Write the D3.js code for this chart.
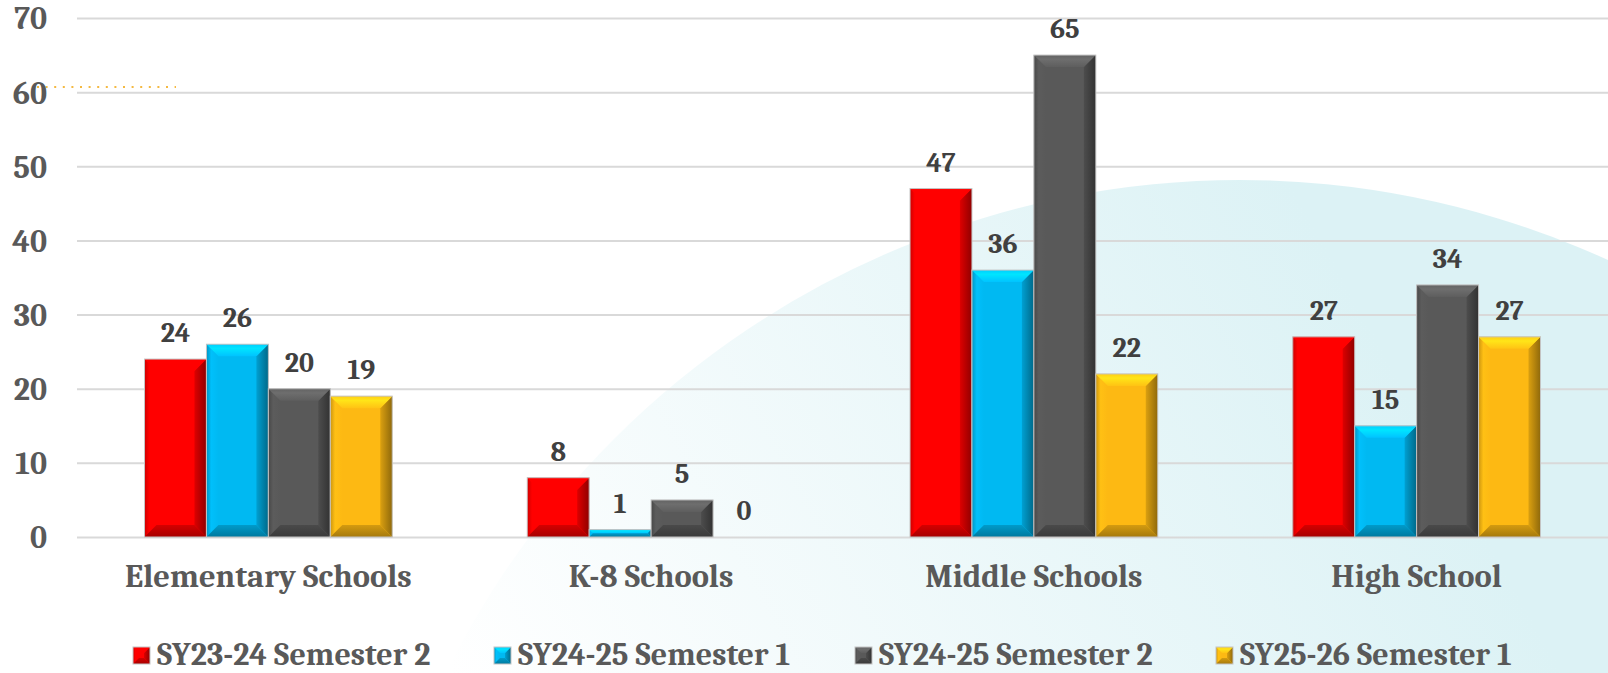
<!DOCTYPE html>
<html>
<head>
<meta charset="utf-8">
<script src="https://cdn.jsdelivr.net/npm/d3@7"></script>
<style>
  body { margin: 0; background: #fff; }
  text { font-family: Cambria, "Liberation Serif", serif; font-weight: bold; }
</style>
</head>
<body>
<div id="chart"></div>
<script>
var categories = ['Elementary Schools', 'K-8 Schools', 'Middle Schools', 'High School'];
var seriesNames = ['SY23-24 Semester 2', 'SY24-25 Semester 1', 'SY24-25 Semester 2', 'SY25-26 Semester 1'];
var sy2324s2 = [24, 8, 47, 27];
var sy2425s1 = [26, 1, 36, 15];
var sy2425s2 = [20, 5, 65, 34];
var sy2526s1 = [19, 0, 22, 27];
var yTicks = [0, 10, 20, 30, 40, 50, 60, 70];
var colors = ['#ff0000', '#00b9f2', '#595959', '#fdb913'];

var seriesValues = [sy2324s2, sy2425s1, sy2425s2, sy2526s1];

// Dimensions
var width = 1608,
    height = 673,
    plotLeft = 77,
    plotTop = 18,
    plotBottom = 537;

var svg = d3.select('#chart')
  .append('svg')
    .attr('width', width)
    .attr('height', height);

var defs = svg.append('defs');

// background blob
var bg = defs.append('linearGradient')
    .attr('id', 'bgGrad')
    .attr('gradientUnits', 'userSpaceOnUse')
    .attr('x1', 450).attr('y1', 673)
    .attr('x2', 1300).attr('y2', 200);
bg.append('stop').attr('offset', 0).attr('stop-color', '#ffffff');
bg.append('stop').attr('offset', 1).attr('stop-color', '#dcf2f5');

svg.append('circle')
    .attr('cx', 1240)
    .attr('cy', 1066)
    .attr('r', 886)
    .attr('fill', 'url(#bgGrad)');

// stray dotted line near the 60 label
svg.append('line')
    .attr('x1', 37).attr('x2', 176)
    .attr('y1', 87).attr('y2', 87)
    .attr('stroke', '#f4b942')
    .attr('stroke-width', 2)
    .attr('stroke-dasharray', '2,6.6');

// Scales
var x0 = d3.scaleBand()
    .domain(categories)
    .range([plotLeft, width])
    .paddingInner(0)
    .paddingOuter(0);

var x1 = d3.scaleBand()
    .domain(seriesNames)
    .range([0, x0.bandwidth()])
    .paddingInner(0)
    .paddingOuter(1.09);

var y = d3.scaleLinear()
    .domain([0, 70])
    .range([plotBottom, plotTop]);

// Gridlines + y labels
var yAxis = svg.append('g')
    .attr('transform', 'translate(' + plotLeft + ',0)')
    .call(d3.axisLeft(y).tickValues(yTicks).tickSize(-(width - plotLeft)).tickPadding(30));
yAxis.select('.domain').remove();
yAxis.selectAll('line').attr('stroke', '#d9d9d9').attr('stroke-width', 2);
yAxis.selectAll('text')
    .attr('fill', '#595959')
    .style('font-size', '32px')
    .attr('dy', '0.34em');

// Category labels
var xAxis = svg.append('g')
    .attr('transform', 'translate(0,' + plotBottom + ')')
    .call(d3.axisBottom(x0).tickSize(0));
xAxis.select('.domain').remove();
xAxis.selectAll('text')
    .attr('fill', '#595959')
    .attr('dy', null)
    .attr('y', 50)
    .style('font-size', '32.5px');

// bevel gradients per series
colors.forEach(function(c, i) {
  var base = d3.color(c);
  var g = defs.append('linearGradient').attr('id', 'right' + i).attr('x1', 0).attr('x2', 1);
  g.append('stop').attr('offset', 0).attr('stop-color', base.darker(0.4));
  g.append('stop').attr('offset', 1).attr('stop-color', base.darker(1.6));
  var t = defs.append('linearGradient').attr('id', 'top' + i).attr('x1', 0).attr('x2', 0).attr('y1', 0).attr('y2', 1);
  t.append('stop').attr('offset', 0).attr('stop-color', base.brighter(0.3));
  t.append('stop').attr('offset', 0.35).attr('stop-color', base.brighter(0.6));
  t.append('stop').attr('offset', 1).attr('stop-color', base.brighter(0.15));
  var b = defs.append('linearGradient').attr('id', 'bot' + i).attr('x1', 0).attr('x2', 0).attr('y1', 0).attr('y2', 1);
  b.append('stop').attr('offset', 0).attr('stop-color', base.darker(0.5));
  b.append('stop').attr('offset', 1).attr('stop-color', base.darker(1.2));
  var l = defs.append('linearGradient').attr('id', 'left' + i).attr('x1', 0).attr('x2', 1);
  l.append('stop').attr('offset', 0).attr('stop-color', base.darker(0.6));
  l.append('stop').attr('offset', 0.4).attr('stop-color', base.brighter(0.1));
  l.append('stop').attr('offset', 1).attr('stop-color', base);
});

function drawBevel(g, x, yy, w, h, b, i) {
  if (h <= 0) return;
  b = Math.min(b, h / 2, w / 2);
  var pts = function(a) { return a.map(function(p) { return p.join(','); }).join(' '); };
  g.append('rect')
    .attr('x', x).attr('y', yy).attr('width', w).attr('height', h)
    .attr('fill', colors[i]);
  g.append('polygon')
    .attr('points', pts([[x, yy], [x + b, yy + b], [x + b, yy + h - b], [x, yy + h]]))
    .attr('fill', 'url(#left' + i + ')');
  g.append('polygon')
    .attr('points', pts([[x + w, yy], [x + w - b, yy + b], [x + w - b, yy + h - b], [x + w, yy + h]]))
    .attr('fill', 'url(#right' + i + ')');
  g.append('polygon')
    .attr('points', pts([[x, yy], [x + w, yy], [x + w - b, yy + b], [x + b, yy + b]]))
    .attr('fill', 'url(#top' + i + ')');
  g.append('polygon')
    .attr('points', pts([[x, yy + h], [x + w, yy + h], [x + w - b, yy + h - b], [x + b, yy + h - b]]))
    .attr('fill', 'url(#bot' + i + ')');
  g.append('rect')
    .attr('x', x).attr('y', yy).attr('width', w).attr('height', h)
    .attr('fill', 'none')
    .attr('stroke', '#c4c4c4')
    .attr('stroke-width', 1);
}

// Bars
var bars = svg.append('g');
categories.forEach(function(cat, ci) {
  seriesNames.forEach(function(s, si) {
    var v = seriesValues[si][ci];
    var bx = x0(cat) + x1(s);
    drawBevel(bars, bx, y(v), x1.bandwidth(), y(0) - y(v), 12, si);
    bars.append('text')
      .attr('x', bx + x1.bandwidth() / 2)
      .attr('y', y(v) - 17)
      .attr('text-anchor', 'middle')
      .attr('fill', '#404040')
      .style('font-size', '28px')
      .text(v);
  });
});

// Legend
var lx = d3.scaleBand()
    .domain(seriesNames)
    .range([133, 133 + 361 * 4]);

var legend = svg.append('g');
seriesNames.forEach(function(s, i) {
  drawBevel(legend, lx(s), 647, 17, 17, 6, i);
  legend.append('text')
    .attr('x', lx(s) + 24)
    .attr('y', 665)
    .attr('fill', '#595959')
    .style('font-size', '32px')
    .text(s);
});
</script>
</body>
</html>
